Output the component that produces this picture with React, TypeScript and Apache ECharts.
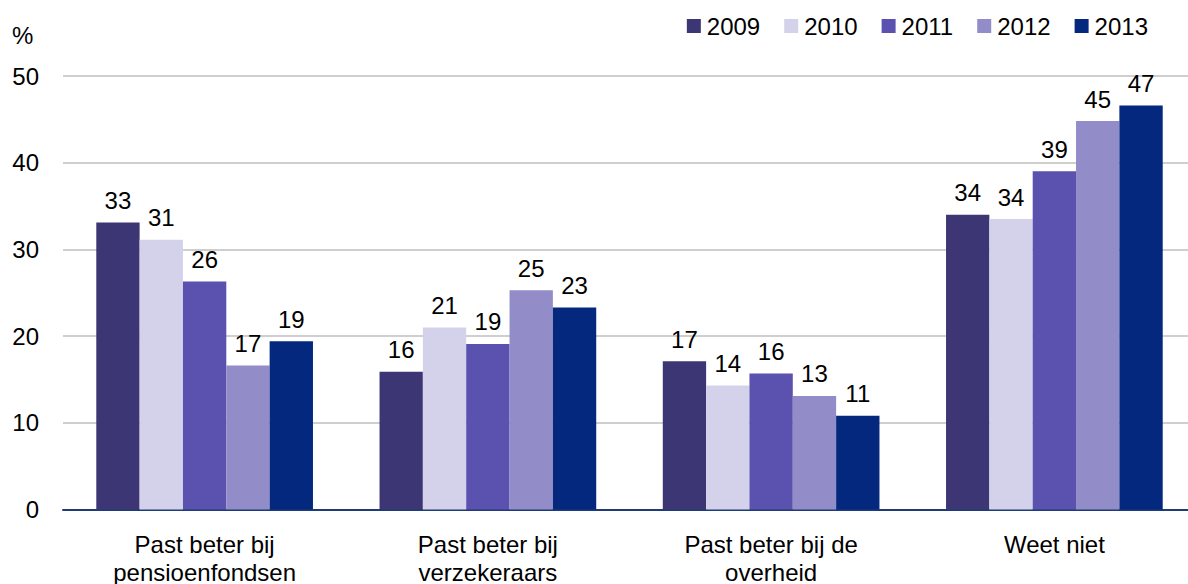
import React, { useEffect, useRef } from "react";
import * as echarts from "echarts";

const categories = [
  "Past beter bij\npensioenfondsen",
  "Past beter bij\nverzekeraars",
  "Past beter bij de\noverheid",
  "Weet niet",
];
const years = ["2009", "2010", "2011", "2012", "2013"];
const v2009 = [33.1, 15.9, 17.1, 34.0];
const v2010 = [31.1, 21.0, 14.3, 33.5];
const v2011 = [26.3, 19.1, 15.7, 39.0];
const v2012 = [16.6, 25.3, 13.1, 44.8];
const v2013 = [19.4, 23.3, 10.8, 46.6];
const seriesValues = [v2009, v2010, v2011, v2012, v2013];
const colors = ["#3c3674", "#d4d2ea", "#5b51ae", "#928cc8", "#03287e"];
const yTicks = [0, 10, 20, 30, 40, 50];

const FONT = "'Liberation Sans', Arial, sans-serif";

export default function App() {
  const ref = useRef<HTMLDivElement>(null);
  useEffect(() => {
    document.body.style.margin = "0";
    const chart = echarts.init(ref.current!, null, { renderer: "svg" });
    chart.setOption({
      animation: false,
      textStyle: { fontFamily: FONT },
      legend: {
        data: years,
        right: 35,
        top: 9,
        itemWidth: 14,
        itemHeight: 14,
        itemGap: 24,
        icon: "rect",
        textStyle: { fontSize: 24, color: "#000", fontFamily: FONT, padding: [0, 0, 0, 1] },
      },
      graphic: [
        {
          type: "text",
          left: 12,
          top: 23,
          style: { text: "%", fontSize: 24, fill: "#000", fontFamily: FONT },
        },
      ],
      grid: {
        left: 63,
        top: 76,
        width: 1133,
        height: 433.5,
        containLabel: false,
        outerBoundsMode: "none",
      },
      xAxis: {
        type: "category",
        data: categories,
        axisLine: { lineStyle: { color: "#1f3c78", width: 2 } },
        axisTick: { show: false },
        axisLabel: {
          fontSize: 24,
          color: "#000",
          lineHeight: 28,
          margin: 21,
          fontFamily: FONT,
          interval: 0,
        },
      },
      yAxis: {
        type: "value",
        min: yTicks[0],
        max: yTicks[yTicks.length - 1],
        interval: 10,
        axisLine: { show: false },
        axisTick: { show: false },
        splitLine: { lineStyle: { color: "#bfbfbf", width: 1.5 } },
        axisLabel: { fontSize: 24, color: "#000", margin: 24, fontFamily: FONT },
      },
      series: years.map((y, i) => ({
        name: y,
        type: "bar",
        data: seriesValues[i],
        barGap: "0%",
        barCategoryGap: "23.5%",
        itemStyle: { color: colors[i] },
        label: {
          show: true,
          position: "top",
          distance: 10,
          fontSize: 24,
          color: "#000",
          fontFamily: FONT,
          formatter: (p: any) => String(Math.round(p.value)),
        },
      })),
    });
    return () => chart.dispose();
  }, []);
  return (
    <div
      ref={ref}
      style={{ position: "absolute", left: 0, top: 0, width: 1188, height: 584 }}
    />
  );
}
